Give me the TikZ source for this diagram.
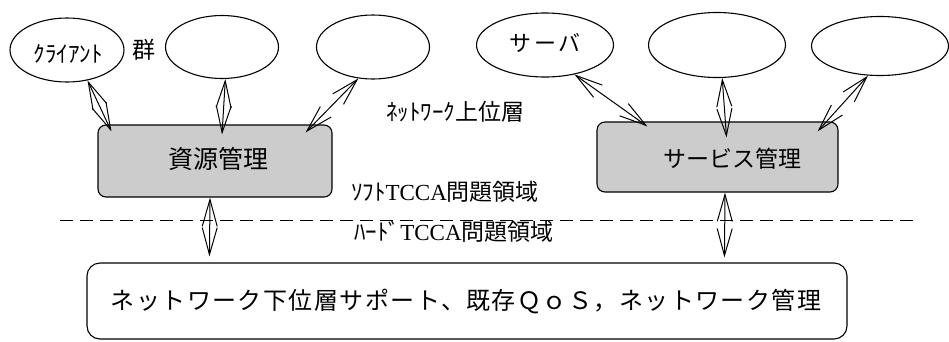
\documentclass[tikz,border=0pt]{standalone}
\usepackage{fontspec}
\newfontfamily\jp{Noto Sans CJK JP}
\newfontfamily\lat{Liberation Serif}
\usetikzlibrary{shapes.geometric,arrows.meta,calc}
\begin{document}
\begin{tikzpicture}[x=1pt,y=-1pt,
  oval/.style={draw,ellipse,line width=1.1pt,inner sep=0pt},
  mgr/.style={draw,rounded corners=8pt,line width=1.1pt,fill=black!20,inner sep=0pt},
  dbl/.style={line width=1pt,{Straight Barb[length=27pt,width=15pt]}-{Straight Barb[length=27pt,width=15pt]}},
  lbl/.style={font=\jp\fontsize{23}{23}\selectfont,inner sep=0pt}]
\useasboundingbox (0,0) rectangle (949,341);
% ellipses
\node[oval,minimum width=114pt,minimum height=64pt] (e1) at (67,50) {};
\node[oval,minimum width=113pt,minimum height=63pt] (e2) at (222,47) {};
\node[oval,minimum width=113pt,minimum height=64pt] (e3) at (373,47) {};
\node[oval,minimum width=137pt,minimum height=64pt] (e4) at (545,45) {};
\node[oval,minimum width=137pt,minimum height=65pt] (e5) at (717,45) {};
\node[oval,minimum width=137pt,minimum height=59pt] (e6) at (880,46) {};
\node[lbl] (tcl) at (68,54) {ｸﾗｲｱﾝﾄ};
\node[lbl,font=\jp\fontsize{22}{22}\selectfont] (tsv) at (545,43) {サ\hspace{3pt}ー\hspace{3pt}バ};
\node[lbl] (tgun) at (144,50) {群};
% manager boxes
\node[mgr,minimum width=234pt,minimum height=72pt] (b1) at (215,161) {};
\node[mgr,minimum width=241pt,minimum height=70pt] (b2) at (717.5,157) {};
\node[lbl,font=\jp\fontsize{25}{25}\selectfont] (tb1) at (218,159) {資源管理};
\node[lbl] (tb2) at (732,159) {サービス管理};
% bottom box
\node[draw,rounded corners=13pt,line width=1.1pt,minimum width=760pt,minimum height=76pt] (bot) at (467,301) {};
\node[lbl,font=\jp\fontsize{24}{24}\selectfont\addfontfeature{LetterSpace=6}] (tbot) at (466,302) {ネットワーク下位層サポート、既存ＱｏＳ，ネットワーク管理};
% layer labels
\node[lbl] (tup) at (455,112) {ﾈｯﾄﾜｰｸ上位層};
\node[lbl] (tsoft) at (445,192) {ｿﾌﾄ{\lat TCCA}問題領域};
\node[lbl] (thard) at (454,232) {ﾊｰﾄﾞ{\lat TCCA}問題領域};
% dashed separator
\coordinate (dl) at (60,220);
\coordinate (dr) at (917,220);
\draw[line width=1pt,dash pattern=on 13pt off 7pt] (dl) -- (dr);
% connectors
\draw[dbl] (e1.-56) -- ($(b1.north west)+(14,7)$);
\draw[dbl] (e2.-84) -- ($(b1.north)+(7,10)$);
\draw[dbl] (e3.-115) -- ($(b1.north east)+(-27,8)$);
\draw[dbl] (e4.-45) -- ($(b2.north west)+(51,5)$);
\draw[dbl] (e5.-81) -- ($(b2.north)+(9,16)$);
\draw[dbl] (e6.-112) -- ($(b2.north east)+(-21,10)$);
\draw[dbl] ($(b1.south)+(-5,0)$) -- ($(bot.north west)+(123,-6)$);
\draw[dbl] ($(b2.south)+(7.5,0)$) -- ($(bot.north west)+(638,-5)$);
\end{tikzpicture}
\end{document}
